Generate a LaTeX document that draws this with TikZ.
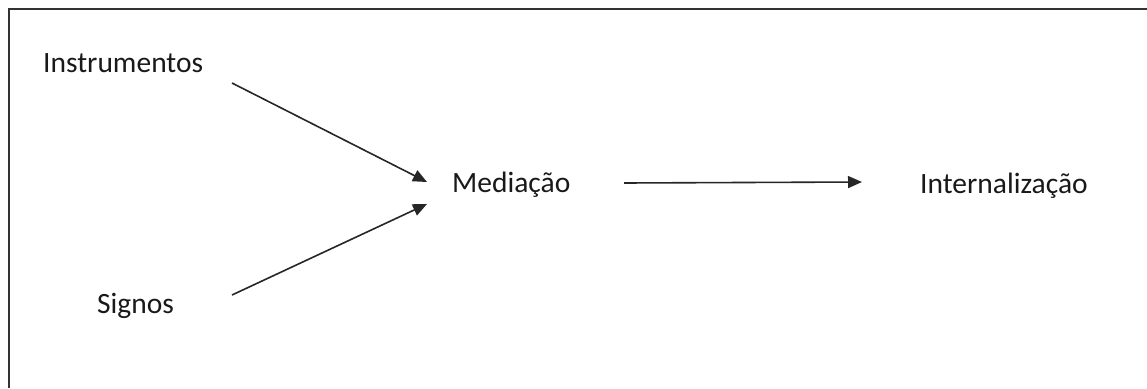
\documentclass[tikz,border=0pt]{standalone}
\usepackage{fontspec}
\setmainfont{Carlito}
\usetikzlibrary{arrows.meta}
\begin{document}
\begin{tikzpicture}[x=1pt,y=-1pt,
  label/.style={inner sep=0pt,anchor=base west,font=\fontsize{29.5}{34}\selectfont,text=black!90},
  link/.style={line width=1.6pt,black!85,-{Triangle[length=14pt,width=12pt]}}]
  \useasboundingbox (0,0) rectangle (1147,388);
  % frame (open at right and bottom)
  \draw[line width=2pt,black!80] (1147,9) -- (8.5,9) -- (8.5,388);
  % labels
  \node[label] (instr) at (43,72) {Instrumentos};
  \node[label] (sig) at (97,313) {Signos};
  \node[label] (med) at (452,192) {Mediação};
  \node[label] (int) at (920,193) {Internalização};
  % arrow end points
  \coordinate (a1) at (232,83);
  \coordinate (a2) at (427,182);
  \coordinate (b1) at (232,295);
  \coordinate (b2) at (427,204);
  \coordinate (c1) at (624,183);
  \coordinate (c2) at (862,182);
  \draw[link] (a1) -- (a2);
  \draw[link] (b1) -- (b2);
  \draw[link] (c1) -- (c2);
\end{tikzpicture}
\end{document}
